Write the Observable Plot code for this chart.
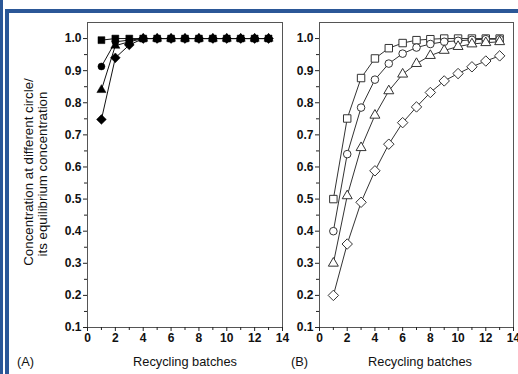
<!DOCTYPE html>
<html>
<head>
<meta charset="utf-8">
<script src="https://cdn.jsdelivr.net/npm/d3@7"></script>
<script src="https://cdn.jsdelivr.net/npm/@observablehq/plot@0.6"></script>
<style>
  html, body { margin: 0; padding: 0; background: #fff; }
  #wrap { position: relative; width: 518px; height: 374px; overflow: hidden; background: #fff;
          font-family: "Liberation Sans", Arial, sans-serif; color: #111; }
  .bar { position: absolute; background: #2b5797; }
  .plot { position: absolute; top: 0; }
  .plot svg { max-width: none !important; }
  .txt { position: absolute; font-size: 12.8px; white-space: nowrap; line-height: 1; }
  .ytl { font-size: 13.3px; }
</style>
</head>
<body>
<div id="wrap">
  <div class="bar" style="left:0;top:0;width:3px;height:374px"></div>
  <div class="bar" style="left:5px;top:9px;width:4px;height:365px"></div>
  <div class="bar" style="left:5px;top:9px;width:513px;height:4px"></div>
  <div id="pa" class="plot" style="left:0;width:300px"></div>
  <div id="pb" class="plot" style="left:270px;width:260px"></div>
  <div class="txt ytl" style="left:29px;top:172px;transform:translate(-50%,-50%) rotate(-90deg)">Concentration at different circle/</div>
  <div class="txt ytl" style="left:43px;top:174px;transform:translate(-50%,-50%) rotate(-90deg)">its equilibrium concentration</div>
  <div class="txt" style="left:185px;top:362px;transform:translate(-50%,-50%)">Recycling batches</div>
  <div class="txt" style="left:420px;top:362px;transform:translate(-50%,-50%)">Recycling batches</div>
  <div class="txt" style="left:17px;top:356px">(A)</div>
  <div class="txt" style="left:291px;top:356px">(B)</div>
</div>
<script>
const batches = [1, 2, 3, 4, 5, 6, 7, 8, 9, 10, 11, 12, 13];

// Panel A (filled markers)
const aSquare   = [0.995, 1.0, 1.0, 1.0, 1.0, 1.0, 1.0, 1.0, 1.0, 1.0, 1.0, 1.0, 1.0];
const aCircle   = [0.913, 0.99, 0.995, 1.0, 1.0, 1.0, 1.0, 1.0, 1.0, 1.0, 1.0, 1.0, 1.0];
const aTriangle = [0.84, 0.978, 0.99, 1.0, 1.0, 1.0, 1.0, 1.0, 1.0, 1.0, 1.0, 1.0, 1.0];
const aDiamond  = [0.748, 0.94, 0.98, 1.0, 1.0, 1.0, 1.0, 1.0, 1.0, 1.0, 1.0, 1.0, 1.0];

// Panel B (open markers)
const bSquare   = [0.50, 0.751, 0.877, 0.938, 0.97, 0.986, 0.995, 0.998, 1.0, 1.0, 1.0, 1.0, 1.0];
const bCircle   = [0.40, 0.64, 0.785, 0.872, 0.922, 0.953, 0.972, 0.983, 0.99, 0.993, 0.996, 0.998, 0.998];
const bTriangle = [0.30, 0.51, 0.66, 0.761, 0.837, 0.889, 0.922, 0.947, 0.963, 0.975, 0.983, 0.987, 0.99];
const bDiamond  = [0.20, 0.36, 0.49, 0.588, 0.671, 0.738, 0.787, 0.832, 0.868, 0.891, 0.912, 0.93, 0.946];

const yMajor = [0.1, 0.2, 0.3, 0.4, 0.5, 0.6, 0.7, 0.8, 0.9, 1.0];
const yMinor = [0.15, 0.25, 0.35, 0.45, 0.55, 0.65, 0.75, 0.85, 0.95];
const xMajor = [0, 2, 4, 6, 8, 10, 12, 14];
const xMinor = [1, 3, 5, 7, 9, 11, 13];

const symbolsSpec = [
  {sym: "square", r: 3.9},
  {sym: "circle", r: 3.5},
  {sym: "triangle", r: 3.4},
  {sym: "diamond2", r: 4.4}
];

function rows(series) {
  return series.map(vals => batches.map((b, i) => ({x: b, y: vals[i]})));
}

function panel(series, filled, opts) {
  const data = rows(series);
  const marks = [
    Plot.frame({stroke: "#555", strokeWidth: 1}),
    Plot.axisY(yMinor, {tickSize: 3, text: null, label: null, stroke: "#222"}),
    Plot.axisY(yMajor, {tickSize: 4, tickPadding: 2, label: null, tickFormat: d3.format(".1f"), stroke: "#222", fill: "#111"}),
    Plot.axisX(xMinor, {tickSize: 3, text: null, label: null, stroke: "#222"}),
    Plot.axisX(xMajor, {tickSize: 4, tickPadding: 2, label: null, tickFormat: d => d, stroke: "#222", fill: "#111"})
  ];
  data.forEach(d => marks.push(Plot.line(d, {x: "x", y: "y", stroke: filled ? "#111" : "#333", strokeWidth: 1})));
  data.forEach((d, k) => marks.push(Plot.dot(d, {
    x: "x", y: "y", symbol: () => symbolsSpec[k].sym, r: symbolsSpec[k].r + (filled ? 0 : 0.3),
    fill: filled ? "#000" : "#fff", stroke: filled ? "#000" : "#333", strokeWidth: filled ? 0.5 : 1
  })));
  return Plot.plot({
    width: opts.width, height: 374,
    marginLeft: opts.ml, marginRight: opts.mr, marginTop: 22, marginBottom: 47,
    x: {domain: [0, 14], axis: null},
    y: {domain: [0.1, 1.05], axis: null},
    symbol: {type: "identity"},
    style: {fontFamily: "'Liberation Sans', Arial, sans-serif", fontSize: "12px", fontWeight: "bold", background: "transparent", overflow: "visible", maxWidth: "none"},
    marks
  });
}

document.getElementById("pa").appendChild(panel([aSquare, aCircle, aTriangle, aDiamond], true, {width: 300, ml: 87, mr: 18}));
document.getElementById("pb").appendChild(panel([bSquare, bCircle, bTriangle, bDiamond], false, {width: 260, ml: 49, mr: 17}));
</script>
</body>
</html>
